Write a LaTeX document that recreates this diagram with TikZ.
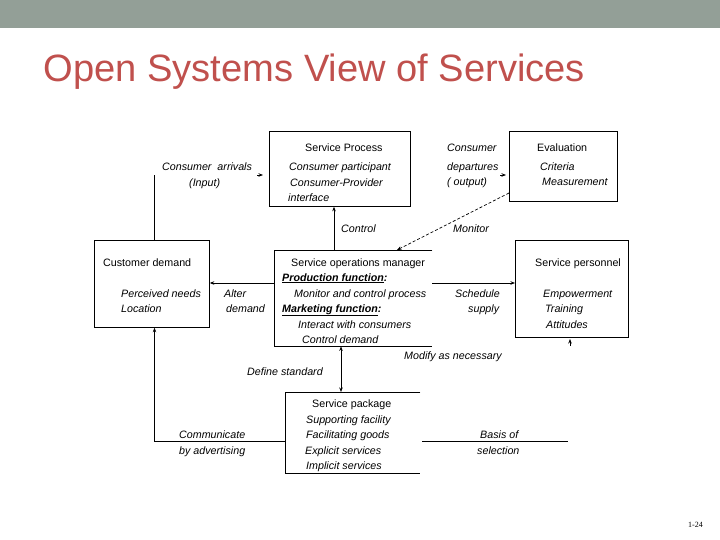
\documentclass[tikz,border=0pt]{standalone}
\usepackage{fontspec}
\setmainfont{Liberation Sans}
\newfontfamily\serifpn{Liberation Serif}
\usetikzlibrary{arrows.meta,calc}
\definecolor{bannergray}{HTML}{939F97}
\definecolor{titlered}{HTML}{C0504D}
\tikzset{
  boxshape/.style={draw=black, line width=0.8pt, inner sep=0pt, anchor=north west},
  openbox/.style={inner sep=0pt, anchor=north west},
  txt/.style={inner sep=0pt, anchor=base west, font=\fontsize{10.7}{12}\selectfont},
  itx/.style={txt, font=\fontsize{10.7}{12}\selectfont\itshape},
  conn/.style={line width=0.7pt},
  arr/.style={conn, -{Stealth[length=4.5pt,width=3.5pt]}},
  arrb/.style={conn, {Stealth[length=4.5pt,width=3.5pt]}-{Stealth[length=4.5pt,width=3.5pt]}},
}
\begin{document}
\begin{tikzpicture}[x=1pt,y=-1pt]
\useasboundingbox (0,0) rectangle (720,540);
\fill[white] (0,0) rectangle (720,540);
\fill[bannergray] (0,0) rectangle (720,28);
\node[inner sep=0pt, anchor=base west, text=titlered, font=\fontsize{38.1}{40}\selectfont] (title) at (43.5,82) {Open Systems View of Services};

% boxes
\node[boxshape, minimum width=141pt, minimum height=75pt] (sp) at (269,131) {};
\node[boxshape, minimum width=108pt, minimum height=70pt] (ev) at (509,131) {};
\node[boxshape, minimum width=115pt, minimum height=87pt] (cd) at (94,240) {};
\node[boxshape, minimum width=113pt, minimum height=97pt] (spers) at (515,240) {};
\node[openbox, minimum width=158pt, minimum height=96pt] (som) at (274,250) {};
\node[openbox, minimum width=135pt, minimum height=81pt] (pkg) at (285,392) {};
\draw[line width=0.8pt] (som.north east) -- (som.north west) -- (som.south west) -- (som.south east);
\draw[line width=0.8pt] (pkg.north east) -- (pkg.north west) -- (pkg.south west) -- (pkg.south east);

% Service Process texts
\node[txt] (spt) at (305,152) {Service Process};
\node[itx] (spa) at (289,171) {Consumer participant};
\node[itx] (spb) at (290,187) {Consumer-Provider};
\node[itx] (spc) at (288,202) {interface};

% Evaluation
\node[txt] (evt) at (537,152) {Evaluation};
\node[itx] (eva) at (540,171) {Criteria};
\node[itx] (evb) at (542,186) {Measurement};

% Customer demand
\node[txt] (cdt) at (103,266) {Customer demand};
\node[itx] (cda) at (121,297) {Perceived needs};
\node[itx] (cdb) at (121,312) {Location};

% Service operations manager
\node[txt] (somt) at (291,266) {Service operations manager};
\node[itx] (soma) at (282,281) {\underline{\textbf{Production function}}\textbf{:}};
\node[itx] (somb) at (294,297) {Monitor and control process};
\node[itx] (somc) at (282,312) {\underline{\textbf{Marketing function}}\textbf{:}};
\node[itx] (somd) at (298,328) {Interact with consumers};
\node[itx] (some) at (302,343) {Control demand};

% Service personnel
\node[txt] (spet) at (535,266) {Service personnel};
\node[itx] (spea) at (543,297) {Empowerment};
\node[itx] (speb) at (545,312) {Training};
\node[itx] (spec) at (546,328) {Attitudes};

% Service package
\node[txt] (pkgt) at (312,407) {Service package};
\node[itx] (pkga) at (306,423) {Supporting facility};
\node[itx] (pkgb) at (306,438) {Facilitating goods};
\node[itx] (pkgc) at (305,454) {Explicit services};
\node[itx] (pkgd) at (306,469) {Implicit services};

% connector labels
\node[itx] (la1) at (162,171) {Consumer\ \ arrivals};
\node[itx] (la2) at (189,187) {(Input)};
\node[itx] (ld1) at (447,152) {Consumer};
\node[itx] (ld2) at (447,171) {departures};
\node[itx] (ld3) at (447,186) {( output)};
\node[itx] (lctl) at (341,233) {Control};
\node[itx] (lmon) at (453,233) {Monitor};
\node[itx] (lal1) at (224,297) {Alter};
\node[itx] (lal2) at (226,312) {demand};
\node[itx] (lsc1) at (455,297) {Schedule};
\node[itx] (lsc2) at (468,312) {supply};
\node[itx] (lmod) at (404,359) {Modify as necessary};
\node[itx] (ldef) at (247,375) {Define standard};
\node[itx] (lco1) at (179,438) {Communicate};
\node[itx] (lco2) at (179,454) {by advertising};
\node[itx] (lba1) at (480,438) {Basis of};
\node[itx] (lba2) at (477,454) {selection};

% coordinates
\coordinate (ca) at (154.5,175);
\coordinate (ainS) at (257,175);
\coordinate (ainE) at (263,175);
\coordinate (aoutS) at (500,175);
\coordinate (aoutE) at (506,175);
\coordinate (ctl) at (334,228);
\coordinate (monS) at (509,193);
\coordinate (monE) at (397,250);
\coordinate (alt) at (240,283);
\coordinate (sch) at (432,283);
\coordinate (modS) at (570,346);
\coordinate (modE) at (570,339);
\coordinate (def) at (341,370);
\coordinate (com) at (154.5,441);
\coordinate (bas) at (568,441);

% connectors
\draw[conn] (cd.north -| ca) -- (ca);
\draw[arr] (ainS) -- (ainE);
\draw[arr] (aoutS) -- (aoutE);
\draw[arr] (som.north -| ctl) -- (sp.south -| ctl);
\draw[arr, dashed, dash pattern=on 3pt off 2pt] (monS) -- (monE);
\draw[arr] (som.west |- alt) -- (cd.east |- alt);
\draw[arr] (sch) -- (spers.west |- sch);
\draw[arr] (modS) -- (modE);
\draw[arrb] (som.south -| def) -- (pkg.north -| def);
\draw[arr] (pkg.west |- com) -- (com) -- (cd.south -| com);
\draw[conn] ($(pkg.east |- bas)+(2,0)$) -- (bas);

\node[inner sep=0pt, anchor=base west, font=\serifpn\fontsize{8}{9}\selectfont] (pn) at (688,527) {1-24};
\end{tikzpicture}
\end{document}
